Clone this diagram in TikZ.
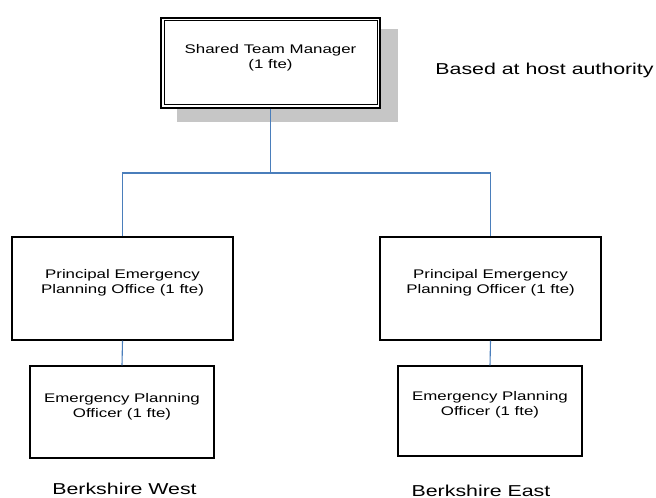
\documentclass[tikz,border=0pt]{standalone}
\usepackage{fontspec}
\setmainfont{Liberation Sans}[FakeStretch=1.35]
\definecolor{connblue}{HTML}{4A7EBB}
\definecolor{shadowgray}{HTML}{C6C6C6}
\begin{document}
\begin{tikzpicture}[x=0.5pt,y=-0.5pt,
  box/.style={draw=black,line width=0.6pt,fill=white,rectangle,inner sep=0pt},
  boxtext/.style={align=center,inner sep=0pt,font=\fontsize{6.25}{7.5}\selectfont},
  bigtext/.style={inner sep=0pt,anchor=base,font=\fontsize{7.9}{9}\selectfont},
  conn/.style={draw=connblue,line width=0.55pt}]
\useasboundingbox (0,0) rectangle (656,497);
% shadow of top box
\node[fill=shadowgray,rectangle,inner sep=0pt,minimum width=110.5pt,minimum height=46.5pt] (shadow) at (287.5,75.5) {};
% top box (double border)
\node[box,line width=0.75pt,minimum width=109.5pt,minimum height=45pt] (top) at (270.5,63) {};
\node[draw=black,line width=0.5pt,rectangle,inner sep=0pt,minimum width=106.5pt,minimum height=42pt] (topin) at (top.center) {};
\node[boxtext] (toptxt) at (270.5,57.5) {Shared Team Manager\\(1 fte)};
% second level
\node[box,minimum width=110.5pt,minimum height=51.5pt] (p1) at (122.5,288.5) {};
\node[boxtext] (p1txt) at (122.5,282.5) {Principal Emergency\\Planning Office (1 fte)};
\node[box,minimum width=110.5pt,minimum height=51.5pt] (p2) at (490.5,288.5) {};
\node[boxtext] (p2txt) at (490.5,282.5) {Principal Emergency\\Planning Officer (1 fte)};
% third level
\node[box,minimum width=92pt,minimum height=46pt] (e1) at (122,412) {};
\node[boxtext] (e1txt) at (122,406.5) {Emergency Planning\\Officer (1 fte)};
\node[box,minimum width=92pt,minimum height=45pt] (e2) at (490,411) {};
\node[boxtext] (e2txt) at (490,405) {Emergency Planning\\Officer (1 fte)};
% labels
\node[bigtext] (host) at (544.5,75) {Based at host authority};
\node[bigtext] (west) at (124.5,494) {Berkshire West};
\node[bigtext] (east) at (481,496) {Berkshire East};
% connectors
\coordinate (bus) at (0,173);
\draw[conn] (top.south) -- (top.south |- bus);
\draw[conn] (p1.north) -- (p1.north |- bus) -- (p2.north |- bus) -- (p2.north);
\draw[conn] (p1.south) -- (e1.north);
\draw[conn] (p2.south) -- (e2.north);
\end{tikzpicture}
\end{document}
